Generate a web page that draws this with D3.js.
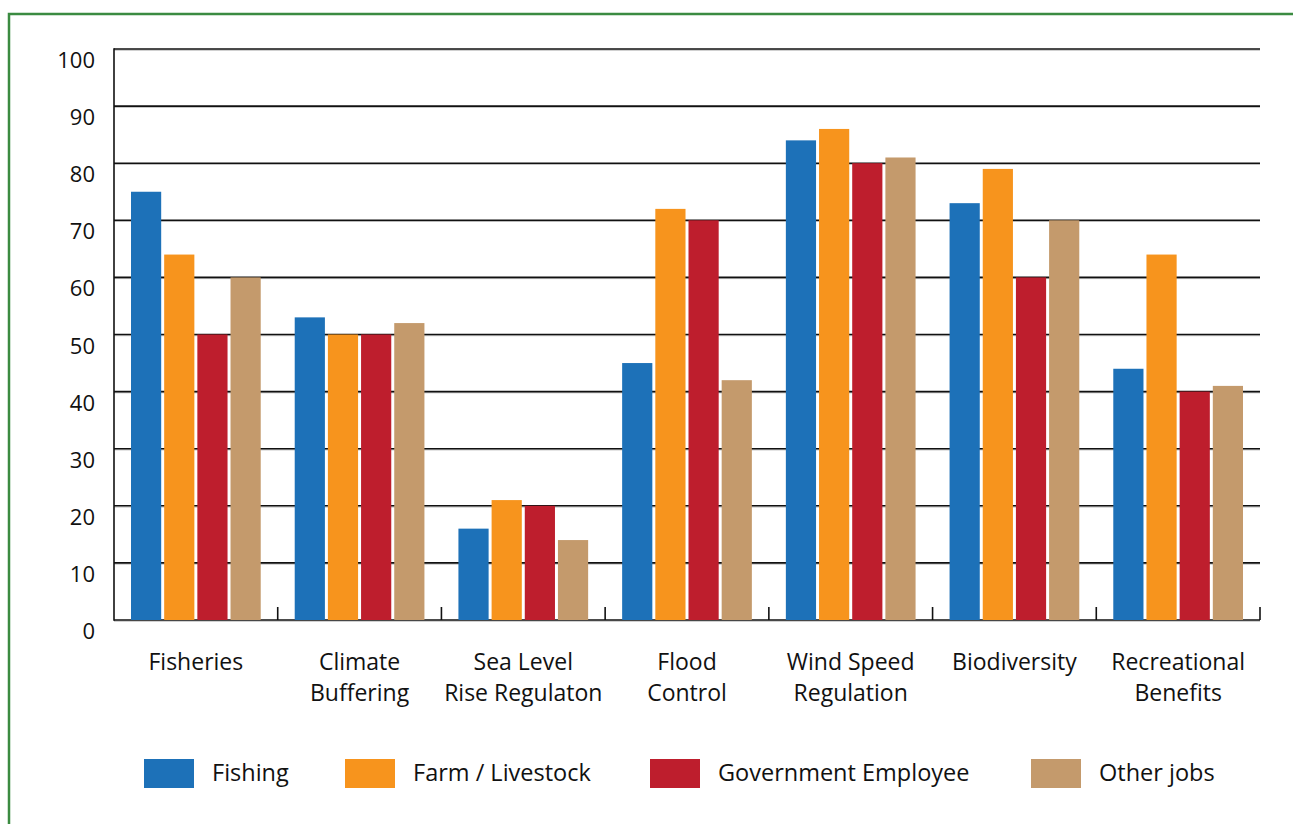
<!DOCTYPE html>
<html>
<head>
<meta charset="utf-8">
<script src="https://cdn.jsdelivr.net/npm/d3@7"></script>
<style>
  html, body { margin: 0; padding: 0; background: #fff; }
  svg { display: block; font-family: "Open Sans", "Noto Sans", sans-serif; }
</style>
</head>
<body>
<svg id="chart" width="1293" height="824"></svg>
<script>
// Ecosystem services rated by respondents, grouped by occupation
const categories = [
  ["Fisheries"],
  ["Climate", "Buffering"],
  ["Sea Level", "Rise Regulaton"],
  ["Flood", "Control"],
  ["Wind Speed", "Regulation"],
  ["Biodiversity"],
  ["Recreational", "Benefits"]
];
const seriesNames = ["Fishing", "Farm / Livestock", "Government Employee", "Other jobs"];
const seriesColors = ["#1d71b8", "#f7941d", "#be1e2d", "#c49a6c"];
const fishing     = [75, 53, 16, 45, 84, 73, 44];
const farm        = [64, 50, 21, 72, 86, 79, 64];
const government  = [50, 50, 20, 70, 80, 60, 40];
const otherJobs   = [60, 52, 14, 42, 81, 70, 41];
const yTicks = [0, 10, 20, 30, 40, 50, 60, 70, 80, 90, 100];

const series = [fishing, farm, government, otherJobs];

const svg = d3.select("#chart");

// outer green frame (runs off the right and bottom edges)
svg.append("path")
  .attr("d", "M9,830 V14 H1300")
  .attr("fill", "none")
  .attr("stroke", "#3b8b41")
  .attr("stroke-width", 2.5);

const plot = { left: 114, right: 1260, top: 49, bottom: 620 };

const x0 = d3.scaleBand()
  .domain(d3.range(categories.length))
  .range([plot.left, plot.right])
  .paddingInner(0)
  .paddingOuter(0);

const x1 = d3.scaleBand()
  .domain(d3.range(series.length))
  .range([17, x0.bandwidth() - 17])
  .paddingInner(0.09);

const y = d3.scaleLinear().domain([0, 100]).range([plot.bottom, plot.top]);

// horizontal gridlines
const grid = svg.append("g");
grid.selectAll("line.shadow")
  .data(yTicks)
  .join("line")
  .attr("class", "shadow")
  .attr("x1", plot.left).attr("x2", plot.right)
  .attr("y1", d => y(d) + 1.2).attr("y2", d => y(d) + 1.2)
  .attr("stroke", "#bbb").attr("stroke-width", 1);
grid.selectAll("line.main")
  .data(yTicks)
  .join("line")
  .attr("class", "main")
  .attr("x1", plot.left).attr("x2", plot.right)
  .attr("y1", d => y(d)).attr("y2", d => y(d))
  .attr("stroke", "#111").attr("stroke-width", 1.6);

// y axis line
svg.append("line")
  .attr("x1", plot.left).attr("x2", plot.left)
  .attr("y1", plot.top - 0.8).attr("y2", plot.bottom + 0.8)
  .attr("stroke", "#111").attr("stroke-width", 1.6);

// y tick labels
svg.append("g").selectAll("text")
  .data(yTicks)
  .join("text")
  .attr("x", 95)
  .attr("y", d => y(d) + 19)
  .attr("text-anchor", "end")
  .attr("font-size", 22)
  .attr("fill", "#111")
  .text(d => d);

// category separator ticks
svg.append("g").selectAll("line")
  .data(d3.range(1, categories.length + 1))
  .join("line")
  .attr("x1", i => x0(i - 1) + x0.bandwidth())
  .attr("x2", i => x0(i - 1) + x0.bandwidth())
  .attr("y1", plot.bottom - 13).attr("y2", plot.bottom)
  .attr("stroke", "#111").attr("stroke-width", 1.6);

// bars
const groups = svg.append("g").selectAll("g")
  .data(categories.map((c, i) => i))
  .join("g")
  .attr("transform", i => `translate(${x0(i)},0)`);

groups.selectAll("rect")
  .data(i => series.map((s, k) => ({ k, v: s[i] })))
  .join("rect")
  .attr("x", d => x1(d.k))
  .attr("width", x1.bandwidth())
  .attr("y", d => y(d.v))
  .attr("height", d => y(0) - y(d.v))
  .attr("fill", d => seriesColors[d.k]);

// category labels
const catLabels = svg.append("g").selectAll("text")
  .data(categories)
  .join("text")
  .attr("x", (d, i) => x0(i) + x0.bandwidth() / 2)
  .attr("y", 670)
  .attr("text-anchor", "middle")
  .attr("font-size", 23)
  .attr("fill", "#111");
catLabels.selectAll("tspan")
  .data(d => d)
  .join("tspan")
  .attr("x", function () { return d3.select(this.parentNode).attr("x"); })
  .attr("dy", (d, j) => j === 0 ? 0 : 31)
  .text(d => d);

// legend
const legendX = [144, 345, 650, 1031];
const legend = svg.append("g").selectAll("g")
  .data(seriesNames)
  .join("g")
  .attr("transform", (d, i) => `translate(${legendX[i]},759)`);
legend.append("rect")
  .attr("width", 50).attr("height", 29)
  .attr("fill", (d, i) => seriesColors[i]);
legend.append("text")
  .attr("x", 68).attr("y", 22)
  .attr("font-size", 23.5)
  .attr("fill", "#111")
  .text(d => d);
</script>
</body>
</html>
